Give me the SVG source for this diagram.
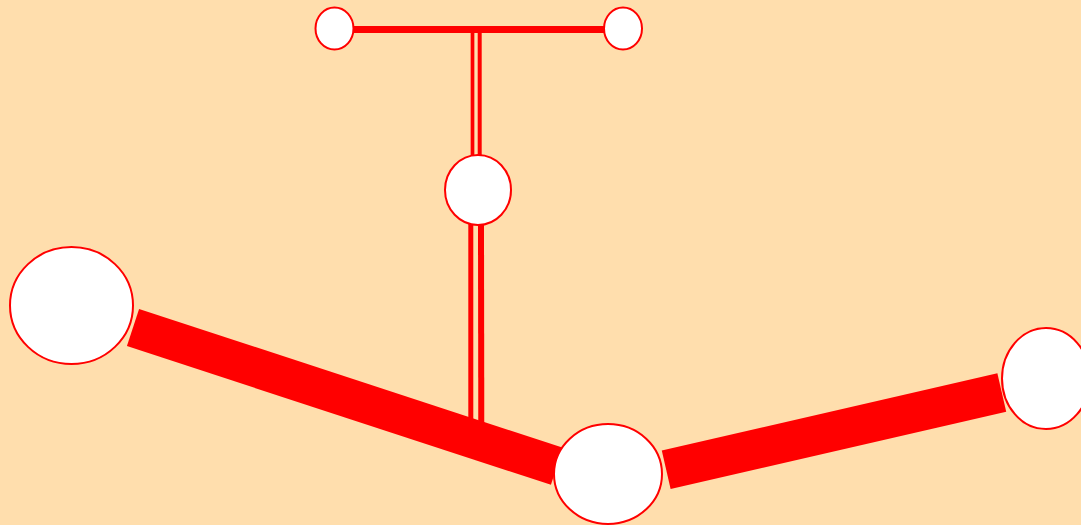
<svg xmlns="http://www.w3.org/2000/svg" width="1081" height="525" viewBox="0 0 1081 525">
<style>
.node{fill:#ffffff;stroke:#ff0000;stroke-width:2}
.edge{stroke:#ff0000;fill:none;stroke-linecap:butt}
</style>
<rect x="0" y="0" width="1081" height="525" fill="#ffdead"/>
<g id="connectors">
<line class="edge" x1="353" y1="29.5" x2="605" y2="29.5" stroke-width="7"/>
<line class="edge" x1="472.5" y1="33" x2="472.5" y2="156" stroke-width="3.7"/>
<line class="edge" x1="479.7" y1="33" x2="479.7" y2="156" stroke-width="4"/>
<line class="edge" x1="470.8" y1="224" x2="470.8" y2="425" stroke-width="5"/>
<line class="edge" x1="481" y1="224" x2="481.3" y2="430" stroke-width="6"/>
<line class="edge" x1="133" y1="327.5" x2="557" y2="466.3" stroke-width="39"/>
<line class="edge" x1="666.2" y1="469.7" x2="1001.8" y2="392.5" stroke-width="39.5"/>
</g>
<g id="node-a"><ellipse class="node" cx="334.5" cy="28.5" rx="19" ry="21"/></g>
<g id="node-b"><ellipse class="node" cx="623" cy="28.5" rx="19" ry="21"/></g>
<g id="node-c"><ellipse class="node" cx="478" cy="190" rx="33" ry="35"/></g>
<g id="node-d"><ellipse class="node" cx="71.5" cy="305.5" rx="61.5" ry="58.5"/></g>
<g id="node-e"><ellipse class="node" cx="608" cy="474" rx="54" ry="50"/></g>
<g id="node-f"><ellipse class="node" cx="1046" cy="378.5" rx="44" ry="50.5"/></g>
</svg>
